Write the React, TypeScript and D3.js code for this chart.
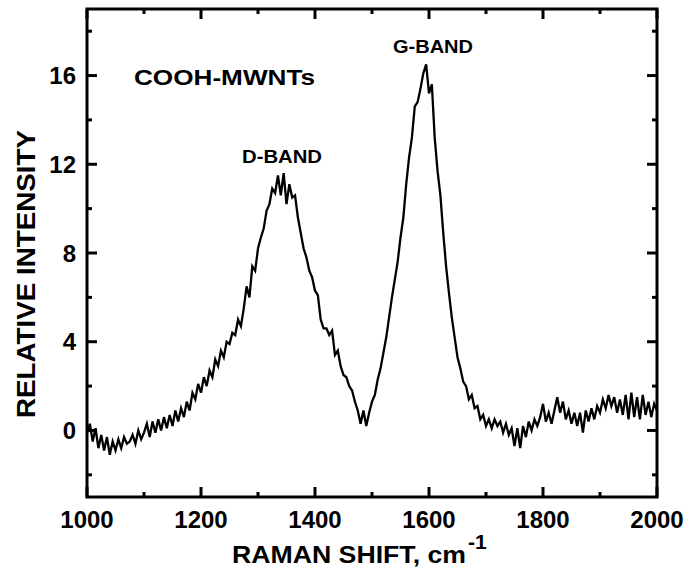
import React from "react";
import * as d3 from "d3";

const shift: number[] = d3.range(1000, 2001, 5);
const intensity: number[] = [
  -0.1, 0.3, -0.5, 0.1, -0.8, -0.2, -0.9, -0.3, -1.1, -0.5,
  -0.9, -0.4, -0.8, -0.3, -0.6, -0.5, -0.2, -0.6, 0.0, -0.4,
  -0.1, 0.3, -0.3, 0.4, -0.1, 0.5, 0.0, 0.6, 0.1, 0.7,
  0.2, 0.9, 0.4, 1.0, 0.6, 1.3, 0.9, 1.7, 1.4, 2.1,
  1.7, 2.4, 2.0, 2.7, 2.4, 3.2, 2.9, 3.6, 3.3, 4.0,
  3.9, 4.4, 4.3, 5.0, 4.7, 5.5, 6.5, 6.0, 7.4, 7.2,
  8.2, 8.7, 9.1, 9.9, 10.2, 10.9, 10.7, 11.5, 10.6, 11.6,
  10.2, 11.1, 10.5, 10.6, 9.6, 8.9, 8.2, 7.8, 7.2, 6.9,
  6.3, 6.1, 5.0, 4.6, 4.6, 4.3, 4.5, 3.4, 3.6, 2.9,
  2.5, 2.4, 2.0, 1.8, 1.3, 0.9, 0.3, 0.9, 0.2, 0.8,
  1.3, 1.6, 2.3, 2.8, 3.5, 4.2, 5.1, 6.0, 6.8, 7.6,
  8.7, 9.6, 11.1, 12.3, 13.2, 14.6, 14.8, 15.4, 16.1, 16.5,
  15.2, 15.6, 13.2, 11.7, 10.6, 8.9, 7.4, 6.2, 5.1, 4.2,
  3.3, 2.8, 2.2, 2.0, 1.4, 1.6, 1.0, 1.1, 0.5, 0.7,
  0.2, 0.5, 0.1, 0.5, 0.2, 0.4, -0.1, 0.3, -0.2, 0.1,
  -0.7, 0.1, -0.8, 0.2, -0.3, 0.4, 0.0, 0.5, 0.2, 0.6,
  1.2, 0.4, 0.8, 0.3, 0.9, 1.5, 0.8, 1.3, 0.5, 0.9,
  0.3, 0.8, 0.2, 0.8, -0.1, 0.9, 0.4, 1.0, 0.5, 1.1,
  0.8, 1.4, 1.0, 1.6, 1.1, 1.5, 0.8, 1.4, 0.7, 1.6,
  0.5, 1.7, 0.6, 1.5, 0.5, 1.6, 0.7, 1.3, 0.6, 1.2,
  0.9,
];

const xTickLabels: number[] = [1000, 1200, 1400, 1600, 1800, 2000];
const xMinorTicks: number[] = [1100, 1300, 1500, 1700, 1900];
const yTickLabels: number[] = [0, 4, 8, 12, 16];
const yMinorTicks: number[] = [-2, 2, 6, 10, 14, 18];

const W = 688;
const H = 572;
const left = 87;
const right = 657;
const top = 9;
const bottom = 497;
const FONT = "'Liberation Sans', Arial, sans-serif";

export default function App() {
  const x = d3.scaleLinear().domain([1000, 2000]).range([left, right]);
  const y = d3.scaleLinear().domain([-3, 19]).range([bottom, top]);
  const data = shift.map((s, i) => [s, intensity[i]] as [number, number]);
  const line = d3
    .line<[number, number]>()
    .x((d) => x(d[0]))
    .y((d) => y(d[1]));

  const major = 10;
  const minor = 5;

  return (
    <svg
      width={W}
      height={H}
      style={{ position: "absolute", left: 0, top: 0, background: "#fff" }}
      fontFamily={FONT}
    >
      <rect x={0} y={0} width={W} height={H} fill="#fff" />
      <path d={line(data) || ""} fill="none" stroke="#000" strokeWidth={2.3} strokeLinejoin="miter" />
      {xTickLabels.map((v) => (
        <g key={"xM" + v}>
          <line x1={x(v)} x2={x(v)} y1={bottom} y2={bottom - major} stroke="#000" strokeWidth={3} />
          <line x1={x(v)} x2={x(v)} y1={top} y2={top + major} stroke="#000" strokeWidth={3} />
          <text x={x(v)} y={528} textAnchor="middle" fontSize={24} fontWeight="bold">
            {v}
          </text>
        </g>
      ))}
      {xMinorTicks.map((v) => (
        <g key={"xm" + v}>
          <line x1={x(v)} x2={x(v)} y1={bottom} y2={bottom - minor} stroke="#000" strokeWidth={3} />
          <line x1={x(v)} x2={x(v)} y1={top} y2={top + minor} stroke="#000" strokeWidth={3} />
        </g>
      ))}
      {yTickLabels.map((v) => (
        <g key={"yM" + v}>
          <line x1={left} x2={left + major} y1={y(v)} y2={y(v)} stroke="#000" strokeWidth={3} />
          <line x1={right} x2={right - major} y1={y(v)} y2={y(v)} stroke="#000" strokeWidth={3} />
          <text x={76} y={y(v)} dy="0.36em" textAnchor="end" fontSize={24} fontWeight="bold">
            {v}
          </text>
        </g>
      ))}
      {yMinorTicks.map((v) => (
        <g key={"ym" + v}>
          <line x1={left} x2={left + minor} y1={y(v)} y2={y(v)} stroke="#000" strokeWidth={3} />
          <line x1={right} x2={right - minor} y1={y(v)} y2={y(v)} stroke="#000" strokeWidth={3} />
        </g>
      ))}
      <rect
        x={left}
        y={top}
        width={right - left}
        height={bottom - top}
        fill="none"
        stroke="#000"
        strokeWidth={3}
      />
      <text x={232} y={563} fontSize={24} fontWeight="bold" textLength={234} lengthAdjust="spacingAndGlyphs">
        RAMAN SHIFT, cm
      </text>
      <text x={468} y={549} fontSize={21} fontWeight="bold">
        -1
      </text>
      <text
        transform="translate(35,274) rotate(-90)"
        textAnchor="middle"
        fontSize={26}
        fontWeight="bold"
        textLength={288}
        lengthAdjust="spacingAndGlyphs"
      >
        RELATIVE INTENSITY
      </text>
      <text x={134} y={85} fontSize={22} fontWeight="bold" textLength={181} lengthAdjust="spacingAndGlyphs">
        COOH-MWNTs
      </text>
      <text x={242} y={163} fontSize={18} fontWeight="bold" textLength={80} lengthAdjust="spacingAndGlyphs">
        D-BAND
      </text>
      <text x={393} y={53} fontSize={18} fontWeight="bold" textLength={80} lengthAdjust="spacingAndGlyphs">
        G-BAND
      </text>
    </svg>
  );
}
